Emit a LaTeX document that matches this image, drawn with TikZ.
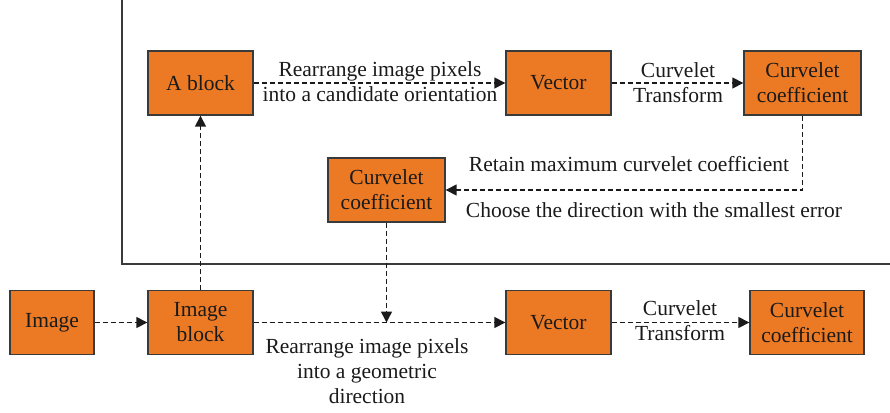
\documentclass[tikz,border=0pt]{standalone}
\usepackage{fontspec}
\setmainfont{Liberation Serif}
\usetikzlibrary{arrows.meta}
\definecolor{boxfill}{HTML}{EC7A24}
\definecolor{boxline}{HTML}{3A3A3A}
\definecolor{txt}{HTML}{1A1A1A}
\begin{document}
\begin{tikzpicture}[x=1pt,y=-1pt,
  box/.style={draw=boxline, line width=1.4pt, fill=boxfill, inner sep=0pt, align=center,
    font=\fontsize{21.5}{25}\selectfont, text=txt, minimum height=64pt},
  flow/.style={draw=txt, line width=1.5pt, dash pattern=on 5pt off 3pt, -{Triangle[length=11pt,width=11pt]}},
  lbl/.style={align=center, font=\fontsize{21.5}{25}\selectfont, inner sep=0pt, text=txt}]
\useasboundingbox (0,0) rectangle (890,412);
\draw[boxline, line width=1.4pt] (122,0) -- (122,264) -- (890,264);
% boxes
\node[box, minimum width=105pt] (ablock) at (200.5,83) {A block};
\node[box, minimum width=105pt] (vec1) at (558.5,83) {Vector};
\node[box, minimum width=117pt] (cc1) at (802.5,83) {Curvelet\\coefficient};
\node[box, minimum width=117pt] (cc2) at (386.5,190) {Curvelet\\coefficient};
\node[box, minimum width=84pt] (img) at (52,322.5) {Image};
\node[box, minimum width=105pt] (imgblock) at (200.5,322.5) {Image\\block};
\node[box, minimum width=105pt] (vec2) at (558.5,322.5) {Vector};
\node[box, minimum width=114pt] (cc3) at (807,322.5) {Curvelet\\coefficient};
\coordinate (join) at (cc2 |- imgblock);
% connectors
\draw[flow] (ablock) -- (vec1);
\draw[flow] (vec1) -- (cc1);
\draw[flow] (cc1.south) |- (cc2.east);
\draw[flow] (img) -- (imgblock);
\draw[flow] (imgblock) -- (ablock);
\draw[flow] (cc2) -- (join);
\draw[flow] (imgblock) -- (vec2);
\draw[flow] (vec2) -- (cc3);
% labels
\node[lbl] (l1) at (380,82) {Rearrange image pixels\\into a candidate orientation};
\node[lbl] (l2) at (678,83) {Curvelet\\Transform};
\node[lbl] (l3) at (629,164) {Retain maximum curvelet coefficient};
\node[lbl] (l4) at (654,210) {Choose the direction with the smallest error};
\node[lbl] (l5) at (367,371) {Rearrange image pixels\\into a geometric\\direction};
\node[lbl] (l6) at (680,321) {Curvelet\\Transform};
\end{tikzpicture}
\end{document}
